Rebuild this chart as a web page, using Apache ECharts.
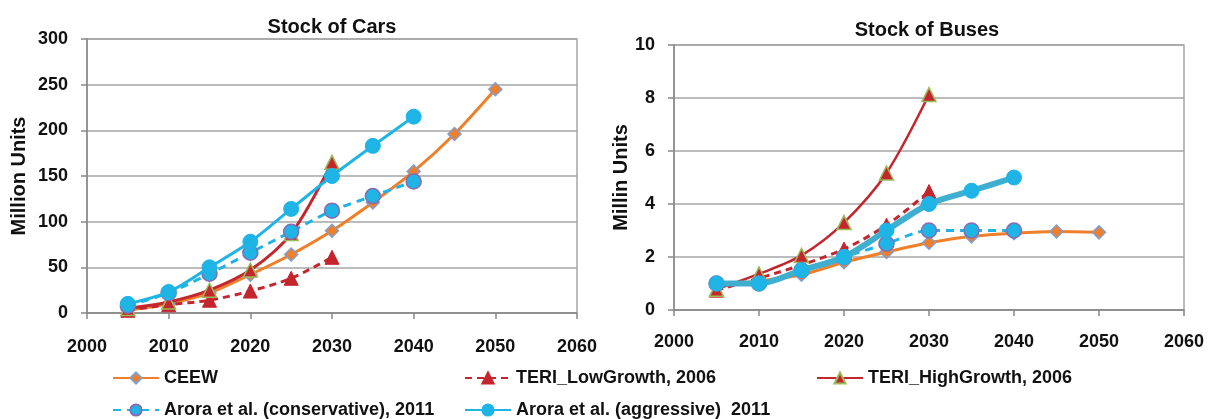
<!DOCTYPE html>
<html><head><meta charset="utf-8">
<script src="https://cdn.jsdelivr.net/npm/echarts@6/dist/echarts.min.js"></script>
<style>html,body{margin:0;padding:0;background:#fff}#c{width:1209px;height:419px}</style>
</head><body><div id="c"></div>
<script>
const years = [2005, 2010, 2015, 2020, 2025, 2030, 2035, 2040, 2045, 2050];
const xTicks = [2000, 2010, 2020, 2030, 2040, 2050, 2060];
const seriesNames = ['CEEW', 'TERI_LowGrowth, 2006', 'TERI_HighGrowth, 2006', 'Arora et al. (conservative), 2011', 'Arora et al. (aggressive)  2011'];

// Stock of Cars (million units)
const carsCEEW = [3, 10, 22, 42, 64, 90, 121, 155, 196, 245];
const carsTeriLow = [3, 9, 14, 24, 38, 61];
const carsTeriHigh = [5, 12, 25, 47, 87, 165];
const carsAroraCons = [8, 22, 43, 66, 89, 112, 128, 144];
const carsAroraAggr = [10, 23, 50, 78, 114, 150, 183, 215];

// Stock of Buses (million units)
const busCEEW = [0.9, 1.1, 1.33, 1.8, 2.19, 2.54, 2.78, 2.9, 2.96, 2.93];
const busTeriLow = [0.75, 1.2, 1.7, 2.3, 3.2, 4.47];
const busTeriHigh = [0.78, 1.36, 2.06, 3.3, 5.17, 8.13];
const busAroraCons = [1.0, 1.0, 1.5, 2.0, 2.5, 3.0, 3.0, 3.0];
const busAroraAggr = [1.0, 1.0, 1.5, 2.0, 3.0, 4.0, 4.5, 5.0];

const FONT = '"Liberation Sans", Arial, sans-serif';
const pair = (vals) => vals.map((v, i) => [years[i], v]);

function mk(name, data, gi, style) {
  return Object.assign({
    name, type: 'line', xAxisIndex: gi, yAxisIndex: gi, data: pair(data),
    smooth: 0.3, animation: false,
  }, style(gi));
}
const styles = [
  gi => ({ symbol: 'diamond', symbolSize: 13, lineStyle: { color: '#F07F2A', width: 3 },
    itemStyle: { color: '#F07F2A', borderColor: '#7F9FD0', borderWidth: 1.5 }, z: 2 }),
  gi => ({ symbol: 'triangle', symbolSize: 14, lineStyle: { color: '#C4262E', width: 3, type: [7, 5] },
    itemStyle: { color: '#C4262E', borderColor: '#C4262E', borderWidth: 1 }, z: 3 }),
  gi => ({ symbol: 'triangle', symbolSize: 14, lineStyle: { color: '#C4262E', width: gi ? 2.5 : 3 },
    itemStyle: { color: '#C4262E', borderColor: '#9BBB59', borderWidth: 1.5 }, z: 4 }),
  gi => ({ symbol: 'circle', symbolSize: 15, lineStyle: { color: '#1FB4E6', width: 3, type: [8, 6] },
    itemStyle: { color: '#1FB4E6', borderColor: '#8A6BB0', borderWidth: 1.5 }, z: 5 }),
  gi => ({ symbol: 'circle', symbolSize: 15, lineStyle: { color: gi ? '#3FAFCF' : '#1FB4E6', width: gi ? 6 : 3 },
    itemStyle: { color: '#1FB4E6', borderColor: '#1FB4E6', borderWidth: 1 }, z: 6 }),
];

const carsData = [carsCEEW, carsTeriLow, carsTeriHigh, carsAroraCons, carsAroraAggr];
const busData = [busCEEW, busTeriLow, busTeriHigh, busAroraCons, busAroraAggr];
const series = [];
carsData.forEach((d, i) => series.push(mk(seriesNames[i], d, 0, styles[i])));
busData.forEach((d, i) => series.push(mk(seriesNames[i], d, 1, styles[i])));

const axisLbl = { fontFamily: FONT, fontWeight: 'bold', fontSize: 18, color: '#111' };
function xAx(gi) {
  return { type: 'value', gridIndex: gi, min: xTicks[0], max: xTicks[xTicks.length - 1], interval: 10,
    axisLine: { show: true, lineStyle: { color: '#888', width: 1.5 } },
    axisTick: { show: true, length: 6, inside: false, lineStyle: { color: '#888', width: 1.5 } },
    axisLabel: Object.assign({ margin: gi ? 23 : 25, formatter: v => String(v) }, axisLbl),
    splitLine: { show: false } };
}
function yAx(gi, max, interval, name) {
  return { type: 'value', gridIndex: gi, min: 0, max, interval,
    name, nameLocation: 'middle', nameGap: gi ? 37 : 58, nameRotate: 90,
    nameTextStyle: { fontFamily: FONT, fontWeight: 'bold', fontSize: 20, color: '#111' },
    axisLine: { show: true, lineStyle: { color: '#888', width: 1.5 } },
    axisTick: { show: true, length: 6, lineStyle: { color: '#888', width: 1.5 } },
    axisLabel: Object.assign({ margin: 19 }, axisLbl),
    splitLine: { show: true, lineStyle: { color: '#A6A6A6', width: 1.5 } } };
}

const legendPos = [
  { left: 107, top: 364 }, { left: 459, top: 364 }, { left: 811, top: 364 },
  { left: 107, top: 396 }, { left: 459, top: 396 },
];
const legends = seriesNames.map((n, i) => ({
  data: [n], left: legendPos[i].left, top: legendPos[i].top, itemWidth: 46, itemHeight: 14, itemGap: 5,
  textStyle: { fontFamily: FONT, fontWeight: 'bold', fontSize: 18, color: '#111' },
  selectedMode: false,
}));

const chart = echarts.init(document.getElementById('c'), null, { renderer: 'canvas' });
chart.setOption({
  backgroundColor: '#fff',
  animation: false,
  title: [
    { text: 'Stock of Cars', left: 327, top: 12, textAlign: 'center',
      textStyle: { fontFamily: FONT, fontWeight: 'bold', fontSize: 20, color: '#111' } },
    { text: 'Stock of Buses', left: 922, top: 15, textAlign: 'center',
      textStyle: { fontFamily: FONT, fontWeight: 'bold', fontSize: 20, color: '#111' } },
  ],
  legend: legends,
  grid: [
    { left: 87, right: 632, top: 39, bottom: 106, show: true, borderColor: '#A6A6A6', borderWidth: 1.5 },
    { left: 674, right: 25, top: 45, bottom: 109, show: true, borderColor: '#A6A6A6', borderWidth: 1.5 },
  ],
  xAxis: [xAx(0), xAx(1)],
  yAxis: [yAx(0, 300, 50, 'Million Units'), yAx(1, 10, 2, 'Millin Units')],
  series,
});
</script></body></html>
